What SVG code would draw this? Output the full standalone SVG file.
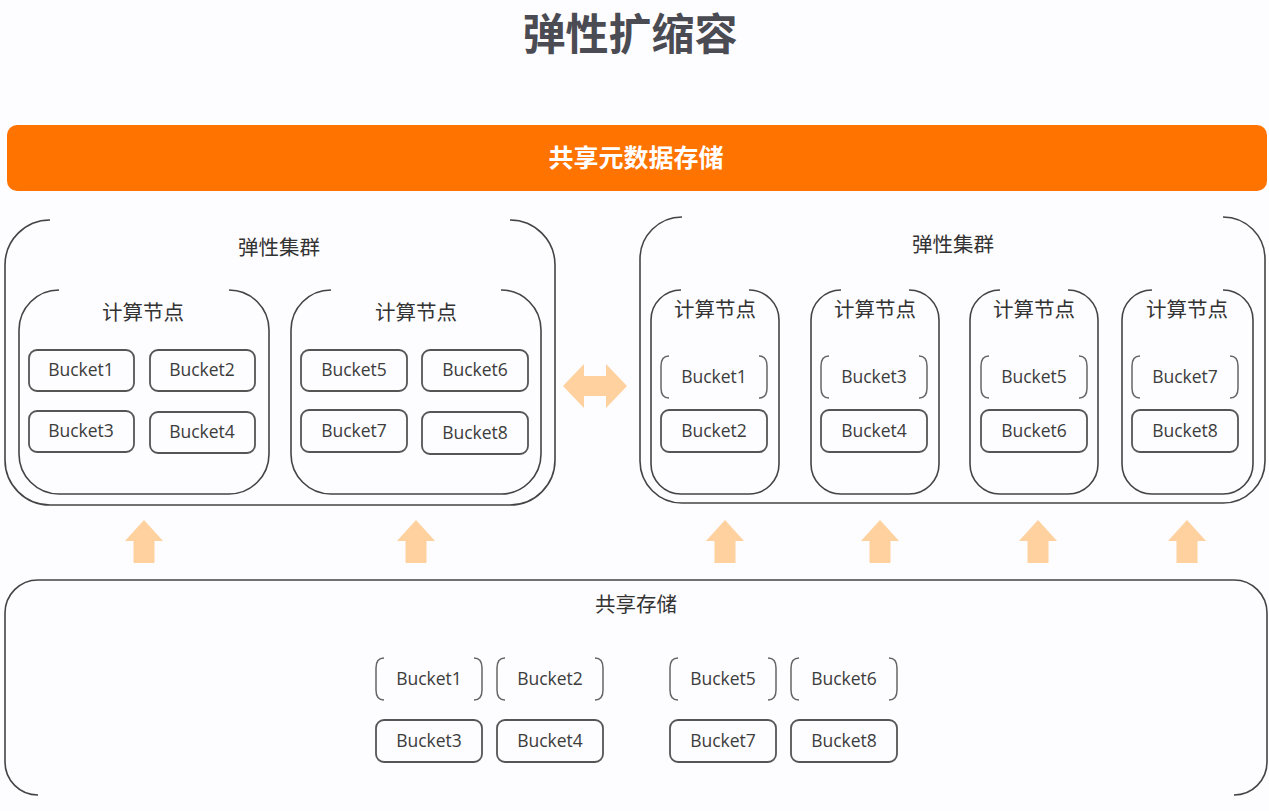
<svg xmlns="http://www.w3.org/2000/svg" width="1269" height="811" viewBox="0 0 1269 811">
<style>
.title{font-family:"Noto Sans CJK SC","Noto Sans",sans-serif;font-size:43px;font-weight:bold;fill:#4b4b53;text-anchor:middle}
.cn{font-family:"Noto Sans CJK SC","Noto Sans",sans-serif;fill:#333;text-anchor:middle;font-size:20.5px}
.b{font-family:"Open Sans","Noto Sans",sans-serif;fill:#3c3c3c;text-anchor:middle;font-size:17.5px}
.box{fill:none;stroke:#555;stroke-width:1.8}
.br{fill:none;stroke:#666;stroke-width:1.5}
.ct{fill:none;stroke:#444;stroke-width:1.6}
.arr{fill:#FFD19E}
</style>
<rect width="1269" height="811" fill="#fdfcfe"/>
<text class="title" x="630" y="50">弹性扩缩容</text>

<g id="meta">
<rect x="7" y="125" width="1260" height="66" rx="10" fill="#FF7300"/>
<text x="636" y="167" font-family="Noto Sans CJK SC,sans-serif" font-size="25" font-weight="bold" fill="#fff" text-anchor="middle">共享元数据存储</text>
</g>

<g id="cluster-left">
<path class="ct" d="M50,220 A45,45 0 0 0 5,265 V460 A45,45 0 0 0 50,505 H510 A45,45 0 0 0 555,460 V265 A45,45 0 0 0 510,220"/>
<text class="cn" x="279" y="255">弹性集群</text>
</g>
<g id="node-l1">
<path class="ct" d="M59,290 A40,40 0 0 0 19,330 V454 A40,40 0 0 0 59,494 H229 A40,40 0 0 0 269,454 V330 A40,40 0 0 0 229,290"/>
<text class="cn" x="143" y="320">计算节点</text>
<rect class="box" x="29" y="350" width="105" height="41" rx="8"/><text class="b" x="81" y="376">Bucket1</text>
<rect class="box" x="150" y="350" width="105" height="41" rx="8"/><text class="b" x="202" y="376">Bucket2</text>
<rect class="box" x="29" y="411" width="105" height="41" rx="8"/><text class="b" x="81" y="437">Bucket3</text>
<rect class="box" x="150" y="412" width="105" height="41" rx="8"/><text class="b" x="202" y="438">Bucket4</text>
</g>
<g id="node-l2">
<path class="ct" d="M331,290 A40,40 0 0 0 291,330 V454 A40,40 0 0 0 331,494 H501 A40,40 0 0 0 541,454 V330 A40,40 0 0 0 501,290"/>
<text class="cn" x="416" y="320">计算节点</text>
<rect class="box" x="301" y="350" width="106" height="41" rx="8"/><text class="b" x="354" y="376">Bucket5</text>
<rect class="box" x="422" y="350" width="106" height="41" rx="8"/><text class="b" x="475" y="376">Bucket6</text>
<rect class="box" x="301" y="410" width="106" height="42" rx="8"/><text class="b" x="354" y="437">Bucket7</text>
<rect class="box" x="422" y="412" width="106" height="42" rx="8"/><text class="b" x="475" y="439">Bucket8</text>
</g>

<g id="cluster-right">
<path class="ct" d="M682,217 A42,42 0 0 0 640,259 V461 A42,42 0 0 0 682,503 H1223 A42,42 0 0 0 1265,461 V259 A42,42 0 0 0 1223,217"/>
<text class="cn" x="953" y="252">弹性集群</text>
</g>
<g id="node-r1">
<path class="ct" d="M681,290 A30,30 0 0 0 651,320 V464 A30,30 0 0 0 681,494 H749 A30,30 0 0 0 779,464 V320 A30,30 0 0 0 749,290"/>
<text class="cn" x="715" y="317">计算节点</text>
<path class="br" d="M669,356 Q661,356 661,366 V388 Q661,398 669,398 M759,356 Q767,356 767,366 V388 Q767,398 759,398"/>
<text class="b" x="714" y="383">Bucket1</text>
<rect class="box" x="661" y="410" width="106" height="42" rx="8"/><text class="b" x="714" y="437">Bucket2</text>
</g>
<g id="node-r2">
<path class="ct" d="M841,290 A30,30 0 0 0 811,320 V464 A30,30 0 0 0 841,494 H909 A30,30 0 0 0 939,464 V320 A30,30 0 0 0 909,290"/>
<text class="cn" x="875" y="317">计算节点</text>
<path class="br" d="M829,356 Q821,356 821,366 V388 Q821,398 829,398 M919,356 Q927,356 927,366 V388 Q927,398 919,398"/>
<text class="b" x="874" y="383">Bucket3</text>
<rect class="box" x="821" y="410" width="106" height="42" rx="8"/><text class="b" x="874" y="437">Bucket4</text>
</g>
<g id="node-r3">
<path class="ct" d="M1000,290 A30,30 0 0 0 970,320 V464 A30,30 0 0 0 1000,494 H1068 A30,30 0 0 0 1098,464 V320 A30,30 0 0 0 1068,290"/>
<text class="cn" x="1034" y="317">计算节点</text>
<path class="br" d="M989,356 Q981,356 981,366 V388 Q981,398 989,398 M1079,356 Q1087,356 1087,366 V388 Q1087,398 1079,398"/>
<text class="b" x="1034" y="383">Bucket5</text>
<rect class="box" x="981" y="410" width="106" height="42" rx="8"/><text class="b" x="1034" y="437">Bucket6</text>
</g>
<g id="node-r4">
<path class="ct" d="M1152,290 A30,30 0 0 0 1122,320 V464 A30,30 0 0 0 1152,494 H1223 A30,30 0 0 0 1253,464 V320 A30,30 0 0 0 1223,290"/>
<text class="cn" x="1187" y="317">计算节点</text>
<path class="br" d="M1140,356 Q1132,356 1132,366 V388 Q1132,398 1140,398 M1230,356 Q1238,356 1238,366 V388 Q1238,398 1230,398"/>
<text class="b" x="1185" y="383">Bucket7</text>
<rect class="box" x="1132" y="410" width="106" height="42" rx="8"/><text class="b" x="1185" y="437">Bucket8</text>
</g>

<g id="shared-storage">
<path class="ct" d="M38,795 A33,33 0 0 1 5,762 V613 A33,33 0 0 1 38,580 H1234 A33,33 0 0 1 1267,613 V762 A33,33 0 0 1 1234,795"/>
<text class="cn" x="636" y="612">共享存储</text>
<path class="br" d="M384,658 Q376,658 376,668 V690 Q376,700 384,700 M474,658 Q482,658 482,668 V690 Q482,700 474,700"/>
<text class="b" x="429" y="685">Bucket1</text>
<path class="br" d="M505,658 Q497,658 497,668 V690 Q497,700 505,700 M595,658 Q603,658 603,668 V690 Q603,700 595,700"/>
<text class="b" x="550" y="685">Bucket2</text>
<path class="br" d="M678,658 Q670,658 670,668 V690 Q670,700 678,700 M768,658 Q776,658 776,668 V690 Q776,700 768,700"/>
<text class="b" x="723" y="685">Bucket5</text>
<path class="br" d="M799,658 Q791,658 791,668 V690 Q791,700 799,700 M889,658 Q897,658 897,668 V690 Q897,700 889,700"/>
<text class="b" x="844" y="685">Bucket6</text>
<rect class="box" x="376" y="720" width="106" height="42" rx="8"/><text class="b" x="429" y="747">Bucket3</text>
<rect class="box" x="497" y="720" width="106" height="42" rx="8"/><text class="b" x="550" y="747">Bucket4</text>
<rect class="box" x="670" y="720" width="106" height="42" rx="8"/><text class="b" x="723" y="747">Bucket7</text>
<rect class="box" x="791" y="720" width="106" height="42" rx="8"/><text class="b" x="844" y="747">Bucket8</text>
</g>

<g id="connectors">
<path class="arr" d="M563,386 L584,364 V376 H606 V364 L627,386 L606,408 V396 H584 V408 Z"/>
<path class="arr" d="M144,520 L163,541 H154.5 V563 H133.5 V541 H125 Z"/>
<path class="arr" d="M416,520 L435,541 H426.5 V563 H405.5 V541 H397 Z"/>
<path class="arr" d="M725,520 L744,541 H735.5 V563 H714.5 V541 H706 Z"/>
<path class="arr" d="M880,520 L899,541 H890.5 V563 H869.5 V541 H861 Z"/>
<path class="arr" d="M1038,520 L1057,541 H1048.5 V563 H1027.5 V541 H1019 Z"/>
<path class="arr" d="M1187,520 L1206,541 H1197.5 V563 H1176.5 V541 H1168 Z"/>
</g>
</svg>
